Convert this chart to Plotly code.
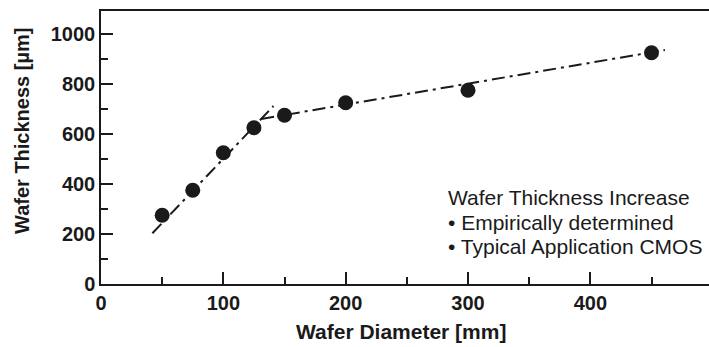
import plotly.graph_objects as go

# Data
diameter_mm = [50, 75, 100, 125, 150, 200, 300, 450]
thickness_um = [275, 375, 525, 625, 675, 725, 775, 925]

# Fitted trend lines
fit1_x = [42, 141]
fit1_y = [203, 712]
fit2_x = [131, 461]
fit2_y = [660, 936]

x_ticks = [0, 100, 200, 300, 400]
y_ticks = [0, 200, 400, 600, 800, 1000]

legend_title = "Wafer Thickness Increase"
legend_items = ["• Empirically determined", "• Typical Application CMOS"]

W, H = 709, 347
L, R, T, B = 101, 0, 11, 63
pw, ph = W - L - R, H - T - B

def px(x):
    return (x - L) / pw

def py(y):
    return (H - B - y) / ph

FONT = "Liberation Sans, Arial, Helvetica, sans-serif"
INK = "#1a1a1a"
DASH = "13px,5px,3px,5px"

fig = go.Figure()
fig.add_trace(go.Scatter(x=fit1_x, y=fit1_y, mode="lines",
                         line=dict(color=INK, width=2, dash=DASH), hoverinfo="skip"))
fig.add_trace(go.Scatter(x=fit2_x, y=fit2_y, mode="lines",
                         line=dict(color=INK, width=2, dash=DASH), hoverinfo="skip"))
fig.add_trace(go.Scatter(x=diameter_mm, y=thickness_um, mode="markers",
                         marker=dict(color=INK, size=15, line=dict(width=0))))

fig.update_layout(
    width=W, height=H,
    margin=dict(l=L, r=R, t=T, b=B, pad=0),
    paper_bgcolor="white", plot_bgcolor="white",
    showlegend=False,
    font=dict(family=FONT, color=INK),
)

fig.update_xaxes(
    range=[0, 497], tickvals=x_ticks, ticktext=[str(v) for v in x_ticks],
    ticks="inside", ticklen=12, tickwidth=1.5, tickcolor=INK,
    minor=dict(dtick=50, tick0=0, ticks="inside", ticklen=7, tickwidth=1.5, tickcolor=INK, showgrid=False),
    showline=True, linecolor=INK, linewidth=1.5, mirror=True,
    showgrid=False, zeroline=False,
    tickfont=dict(family=FONT, size=20, color=INK, weight="bold"),
)
fig.update_yaxes(
    range=[0, 1092], tickvals=y_ticks, ticktext=[str(v) for v in y_ticks],
    ticks="inside", ticklen=12, tickwidth=1.5, tickcolor=INK,
    minor=dict(dtick=100, tick0=0, ticks="inside", ticklen=7, tickwidth=1.5, tickcolor=INK, showgrid=False),
    showline=True, linecolor=INK, linewidth=1.5,
    showgrid=False, zeroline=False,
    tickfont=dict(family=FONT, size=20, color=INK, weight="bold"),
)

ann = []
ann.append(dict(text="Wafer Diameter [mm]", xref="paper", yref="paper",
                x=px(401), y=py(331), xanchor="center", yanchor="middle", showarrow=False,
                font=dict(family=FONT, size=21, color=INK, weight="bold")))
ann.append(dict(text="Wafer Thickness [µm]", xref="paper", yref="paper",
                x=px(22), y=py(131), xanchor="center", yanchor="middle", showarrow=False,
                textangle=-90,
                font=dict(family=FONT, size=20, color=INK, weight="bold")))
ann.append(dict(text=legend_title, xref="paper", yref="paper",
                x=px(446), y=py(197), xanchor="left", yanchor="middle", showarrow=False,
                font=dict(family=FONT, size=21, color=INK)))
for i, t in enumerate(legend_items):
    ann.append(dict(text=t, xref="paper", yref="paper",
                    x=px(446), y=py(222 + 24 * i), xanchor="left", yanchor="middle", showarrow=False,
                    font=dict(family=FONT, size=21, color=INK)))
fig.update_layout(annotations=ann)

fig.write_html("out.html")
